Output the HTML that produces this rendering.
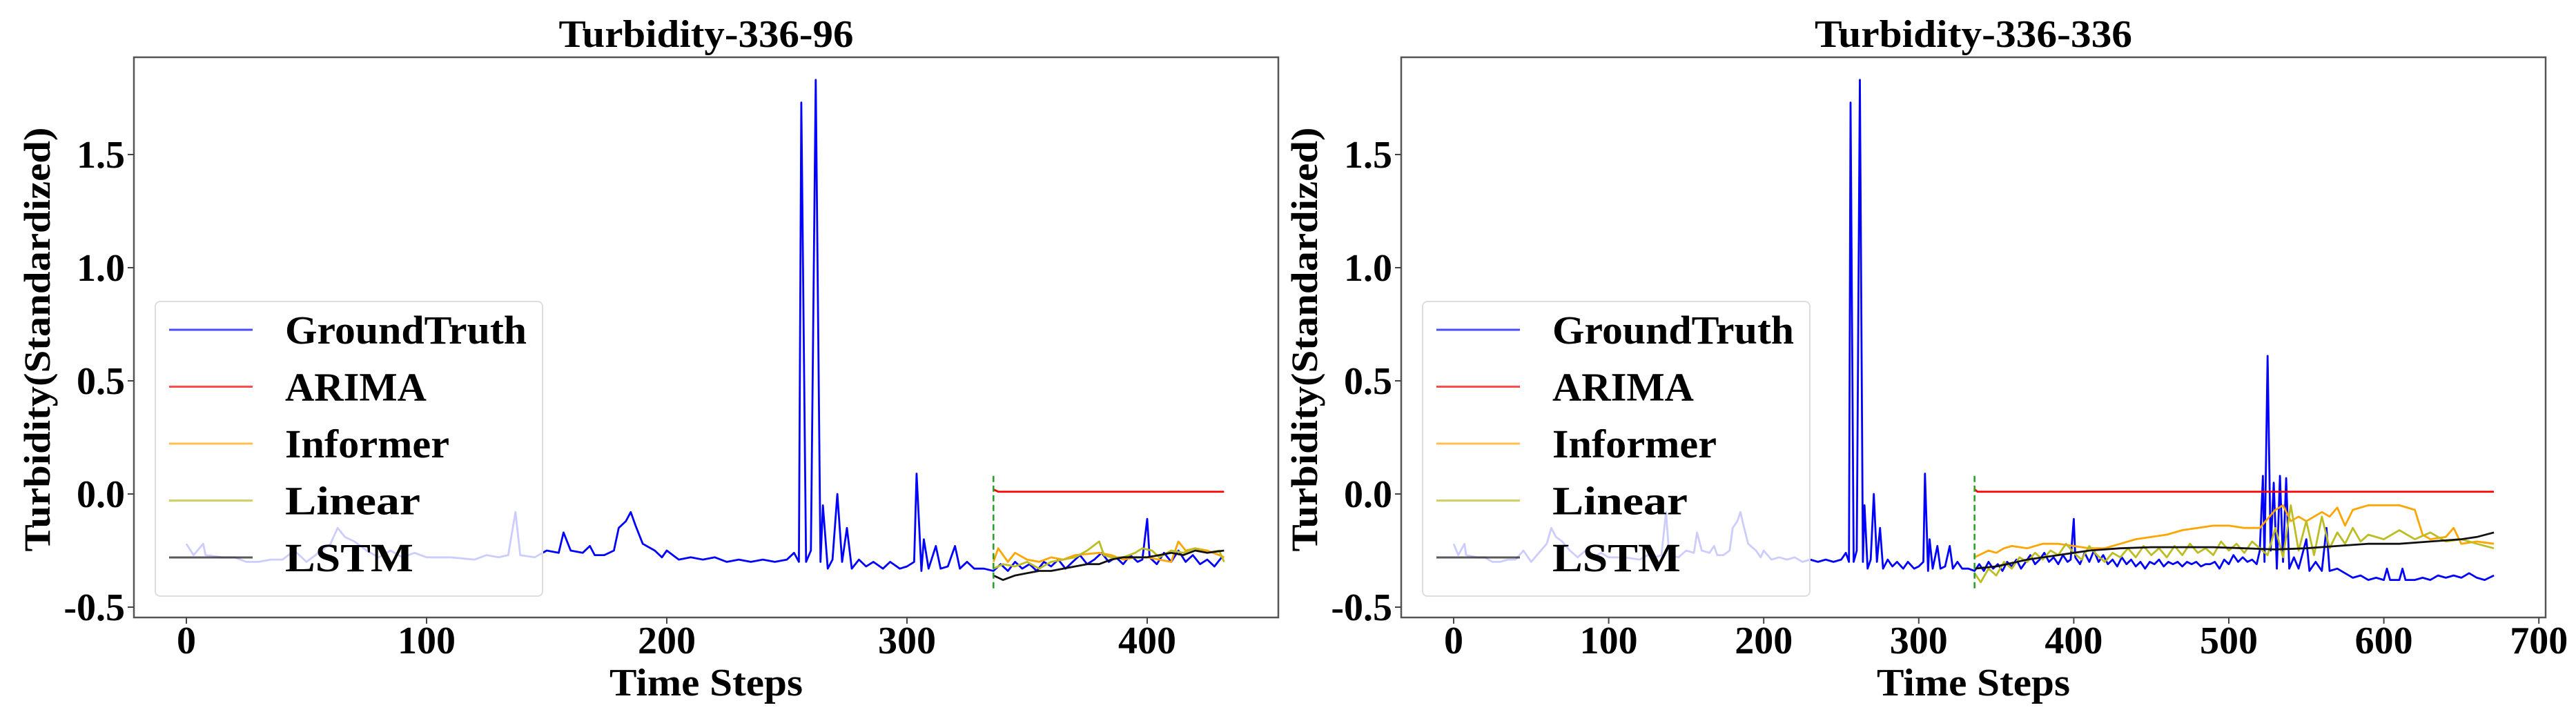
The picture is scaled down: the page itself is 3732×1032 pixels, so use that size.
<!DOCTYPE html>
<html><head><meta charset="utf-8"><style>
html,body{margin:0;padding:0;background:#fff;}
svg{display:block;}
text{font-family:"Liberation Serif",serif;font-weight:bold;fill:#000;}
</style></head><body>
<svg id="chart" width="3732" height="1032" viewBox="0 0 3732 1032" xmlns="http://www.w3.org/2000/svg"></svg>
<script>
// ---- data ----
const gtSteps = [0,3,7,8,15,20,25,30,35,40,45,50,55,60,63,66,70,75,80,85,90,95,100,110,120,125,130,134,137,139,145,150,155,157,160,165,168,170,174,178,180,183,185,187,190,195,198,200,205,210,215,220,225,230,235,240,245,250,253,255,256,258,260,262,264,265,267,269,271,273,275,277,280,283,286,290,293,297,300,303,304,306,307,309,312,314,317,320,322,325,328,332,336,339,342,345,348,351,354,357,360,363,366,369,372,375,378,381,384,387,390,393,396,398,400,401,404,407,410,413,416,419,422,425,428,431,434,437,440,443,446,449,452,455,458,461,464,467,470,473,476,479,482,485,488,491,494,497,500,503,506,509,512,515,518,520,522,523,525,527,529,531,533,535,537,539,542,545,550,552,556,560,563,565,570,575,580,585,590,595,600,602,604,610,612,614,620,625,630,635,640,645,650,655,660,665,671];
const gtValues = [-0.22,-0.27,-0.22,-0.27,-0.28,-0.28,-0.30,-0.30,-0.29,-0.29,-0.25,-0.30,-0.26,-0.22,-0.15,-0.19,-0.21,-0.25,-0.28,-0.25,-0.28,-0.26,-0.28,-0.28,-0.29,-0.27,-0.28,-0.27,-0.08,-0.27,-0.28,-0.25,-0.26,-0.17,-0.25,-0.26,-0.23,-0.27,-0.27,-0.25,-0.15,-0.12,-0.08,-0.14,-0.22,-0.25,-0.28,-0.25,-0.29,-0.28,-0.29,-0.28,-0.30,-0.29,-0.30,-0.29,-0.30,-0.29,-0.26,-0.30,1.73,-0.30,-0.25,1.83,-0.30,-0.05,-0.33,-0.29,0.0,-0.30,-0.15,-0.33,-0.29,-0.32,-0.30,-0.33,-0.30,-0.33,-0.32,-0.30,0.09,-0.34,-0.20,-0.33,-0.23,-0.33,-0.32,-0.23,-0.33,-0.30,-0.33,-0.33,-0.34,-0.31,-0.34,-0.30,-0.33,-0.31,-0.34,-0.30,-0.32,-0.29,-0.33,-0.30,-0.27,-0.31,-0.29,-0.26,-0.30,-0.28,-0.31,-0.27,-0.30,-0.29,-0.11,-0.28,-0.31,-0.26,-0.30,-0.25,-0.30,-0.27,-0.31,-0.29,-0.32,-0.28,-0.31,-0.29,-0.32,-0.30,-0.33,-0.30,-0.31,-0.29,-0.32,-0.30,-0.31,-0.30,-0.32,-0.30,-0.31,-0.30,-0.32,-0.31,-0.31,-0.30,-0.33,-0.29,-0.31,-0.27,-0.30,-0.28,-0.30,-0.29,-0.31,-0.25,0.08,-0.30,0.61,-0.25,0.05,-0.33,0.08,-0.30,0.07,-0.33,-0.28,-0.33,-0.20,-0.34,-0.30,-0.34,-0.15,-0.34,-0.33,-0.35,-0.37,-0.36,-0.38,-0.37,-0.38,-0.33,-0.38,-0.38,-0.33,-0.38,-0.38,-0.37,-0.38,-0.36,-0.37,-0.36,-0.37,-0.35,-0.37,-0.38,-0.36];
const arimaValue = 0.01;
// panel A (336-96)
const aInfSteps = [336,338,342,345,350,355,360,365,370,380,385,390,395,400,405,410,413,416,420,425,430,432];
const aInfValues = [-0.30,-0.24,-0.30,-0.26,-0.29,-0.30,-0.28,-0.29,-0.27,-0.26,-0.27,-0.29,-0.28,-0.28,-0.29,-0.30,-0.21,-0.25,-0.24,-0.25,-0.27,-0.28];
const aLinSteps = [336,340,345,350,355,360,365,370,375,380,382,385,390,395,398,402,405,410,415,420,425,430,432];
const aLinValues = [-0.33,-0.31,-0.32,-0.30,-0.33,-0.30,-0.29,-0.28,-0.25,-0.21,-0.27,-0.28,-0.28,-0.26,-0.24,-0.25,-0.28,-0.25,-0.26,-0.24,-0.26,-0.25,-0.30];
const aLstmSteps = [336,340,345,350,355,360,365,370,375,380,385,390,395,400,405,410,415,420,425,432];
const aLstmValues = [-0.36,-0.38,-0.36,-0.35,-0.34,-0.34,-0.33,-0.32,-0.31,-0.31,-0.29,-0.28,-0.28,-0.28,-0.27,-0.26,-0.27,-0.25,-0.26,-0.25];
// panel B (336-336)
const bInfSteps = [336,345,350,355,360,370,380,390,400,410,420,430,440,450,460,470,480,490,500,510,520,530,535,540,545,550,560,565,570,575,580,590,600,610,620,625,630,640,645,650,660,671];
const bInfValues = [-0.28,-0.25,-0.26,-0.24,-0.23,-0.24,-0.22,-0.22,-0.23,-0.24,-0.24,-0.22,-0.20,-0.19,-0.18,-0.16,-0.15,-0.14,-0.14,-0.15,-0.15,-0.07,-0.05,-0.12,-0.10,-0.12,-0.08,-0.10,-0.06,-0.14,-0.07,-0.05,-0.05,-0.05,-0.07,-0.18,-0.20,-0.19,-0.15,-0.22,-0.21,-0.22];
const bLinSteps = [336,340,345,350,355,360,365,370,375,380,385,390,395,400,405,410,415,420,425,430,435,440,445,450,455,460,465,470,475,480,485,490,495,500,505,510,515,520,525,530,535,540,545,550,555,560,565,570,575,580,585,590,600,610,620,630,640,650,660,671];
const bLinValues = [-0.35,-0.39,-0.33,-0.36,-0.30,-0.33,-0.28,-0.30,-0.26,-0.29,-0.25,-0.27,-0.22,-0.26,-0.29,-0.23,-0.27,-0.30,-0.26,-0.28,-0.24,-0.28,-0.23,-0.27,-0.24,-0.28,-0.23,-0.27,-0.22,-0.26,-0.24,-0.27,-0.21,-0.25,-0.22,-0.26,-0.21,-0.24,-0.27,-0.15,-0.28,-0.05,-0.25,-0.12,-0.27,-0.10,-0.24,-0.17,-0.22,-0.15,-0.21,-0.18,-0.20,-0.16,-0.20,-0.17,-0.21,-0.20,-0.22,-0.24];
const bLstmSteps = [336,350,370,390,410,430,450,470,490,510,530,550,570,590,610,630,650,660,671];
const bLstmValues = [-0.33,-0.32,-0.29,-0.27,-0.25,-0.24,-0.235,-0.235,-0.235,-0.24,-0.245,-0.24,-0.23,-0.22,-0.22,-0.21,-0.20,-0.19,-0.17];
const yTicks = [-0.5,0.0,0.5,1.0,1.5];
const yTickLabels = ["-0.5","0.0","0.5","1.0","1.5"];
const aXTicks = [0,100,200,300,400];
const bXTicks = [0,100,200,300,400,500,600,700];
const legendLabels = ["GroundTruth","ARIMA","Informer","Linear","LSTM"];
const legendWidths = [350,205,238,196,186];
const splitStep = 336;

// ---- drawing ----
const NS = "http://www.w3.org/2000/svg";
const svg = document.getElementById("chart");
function mk(tag, attrs, parent){
  const e = document.createElementNS(NS, tag);
  for (const k in attrs) e.setAttribute(k, attrs[k]);
  (parent||svg).appendChild(e);
  return e;
}
function panel(cfg){
  const g = mk("g", {});
  
  
  const xs = t => cfg.x0 + (t - 0) * cfg.pxPerStep;
  const ys = v => 716 - v * 328;
  const clipId = cfg.name + "-clip";
  const cp = mk("clipPath", {id: clipId}, g);
  mk("rect", {x: cfg.left, y: 83, width: cfg.right - cfg.left, height: 812}, cp);
  const plot = mk("g", {"clip-path": "url(#" + clipId + ")"}, g);
  function series(steps, vals, color, name, w, maxT){
    let d = "";
    for (let i = 0; i < steps.length; i++){
      if (steps[i] > maxT) break;
      d += (d ? "L" : "M") + xs(steps[i]).toFixed(1) + "," + ys(vals[i]).toFixed(1);
    }
    const p = mk("path", {d: d, fill: "none", stroke: color, "stroke-width": w, "stroke-linejoin": "round"}, plot);
    
    
  }
  series(gtSteps, gtValues, "#0000ff", "groundtruth-line", 2.8, cfg.maxT);
  const ar = mk("path", {d: "M" + xs(splitStep) + "," + ys(arimaValue + 0.01) + "L" + xs(splitStep + 2) + "," + ys(arimaValue) + "L" + xs(cfg.maxT) + "," + ys(arimaValue), fill: "none", stroke: "#ff0000", "stroke-width": 2.8}, plot);
  
  
  series(cfg.inf[0], cfg.inf[1], "#ffa500", "informer-line", 2.8, cfg.maxT);
  series(cfg.lin[0], cfg.lin[1], "#bcbd22", "linear-line", 2.8, cfg.maxT);
  series(cfg.lstm[0], cfg.lstm[1], "#111111", "lstm-line", 2.8, cfg.maxT);
  const sp = mk("line", {x1: xs(splitStep), x2: xs(splitStep), y1: ys(0.08), y2: ys(-0.43), stroke: "#2ca02c", "stroke-width": 2.6, "stroke-dasharray": "9,5"}, plot);
  
  
  const fr = mk("rect", {x: cfg.left, y: 83, width: cfg.right - cfg.left, height: 812, fill: "none", stroke: "#555", "stroke-width": 2.5}, g);
  
  
  yTicks.forEach((v, i) => {
    mk("line", {x1: cfg.left - 9, x2: cfg.left, y1: ys(v), y2: ys(v), stroke: "#444", "stroke-width": 2}, g);
    const t = mk("text", {x: cfg.left - 13, y: ys(v) + 19, "text-anchor": "end", "font-size": 56}, g);
    t.textContent = yTickLabels[i];
    
    
  });
  cfg.xticks.forEach(v => {
    mk("line", {x1: xs(v), x2: xs(v), y1: 895, y2: 904, stroke: "#444", "stroke-width": 2}, g);
    const t = mk("text", {x: xs(v), y: 947, "text-anchor": "middle", "font-size": 56}, g);
    t.textContent = String(v);
    
    
  });
  const cx = (cfg.left + cfg.right) / 2;
  const ti = mk("text", {x: cx, y: 68, "text-anchor": "middle", "font-size": 56, textLength: cfg.titleW, lengthAdjust: "spacingAndGlyphs"}, g);
  ti.textContent = cfg.title;
  
  
  const xl = mk("text", {x: cx, y: 1008, "text-anchor": "middle", "font-size": 56, textLength: 280, lengthAdjust: "spacingAndGlyphs"}, g);
  xl.textContent = "Time Steps";
  
  
  const yl = mk("text", {x: 0, y: 0, "text-anchor": "middle", "font-size": 54, textLength: 615, lengthAdjust: "spacingAndGlyphs", transform: "translate(" + (cfg.ylabX) + ",492) rotate(-90)"}, g);
  yl.textContent = "Turbidity(Standardized)";
  
  
  const lg = mk("g", {}, g);
  
  
  mk("rect", {x: cfg.legX, y: 437, width: 561, height: 427, rx: 7, fill: "#fff", "fill-opacity": 0.8, stroke: "#ddd", "stroke-width": 2}, lg);
  const colors = ["#0000ff","#ff0000","#ffa500","#bcbd22","#111111"];
  legendLabels.forEach((lab, i) => {
    const yy = 478 + i * 82.5;
    const ln = mk("line", {x1: cfg.legX + 20, x2: cfg.legX + 141, y1: yy, y2: yy, stroke: colors[i], "stroke-width": 3, "stroke-opacity": 0.7}, lg);
    
    
    const t = mk("text", {x: cfg.legX + 188, y: yy + 20, "font-size": 58, textLength: legendWidths[i], lengthAdjust: "spacingAndGlyphs"}, lg);
    t.textContent = lab;
    
    
  });
}
panel({name: "panel-336-96", title: "Turbidity-336-96", titleW: 427, left: 194, right: 1852, x0: 270, pxPerStep: 3.48, maxT: 432, xticks: aXTicks, ylabX: 72, legX: 225,
  inf: [aInfSteps, aInfValues], lin: [aLinSteps, aLinValues], lstm: [aLstmSteps, aLstmValues]});
panel({name: "panel-336-336", title: "Turbidity-336-336", titleW: 460, left: 2030, right: 3688, x0: 2106, pxPerStep: 2.246, maxT: 671, xticks: bXTicks, ylabX: 1908, legX: 2061,
  inf: [bInfSteps, bInfValues], lin: [bLinSteps, bLinValues], lstm: [bLstmSteps, bLstmValues]});
</script>
</body></html>
